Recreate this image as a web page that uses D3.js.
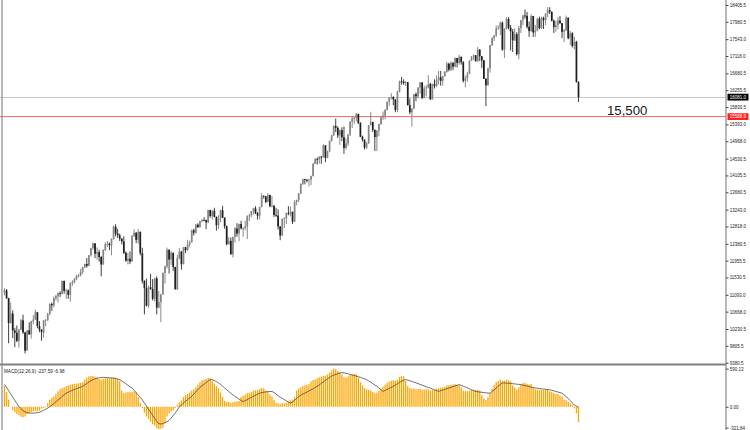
<!DOCTYPE html>
<html><head><meta charset="utf-8">
<script src="https://cdn.jsdelivr.net/npm/d3@7"></script>
<style>html,body{margin:0;padding:0;background:#fff;overflow:hidden}svg{display:block}</style>
</head><body>
<svg id="c" width="750" height="430"></svg>
<script>
// ---- Weekly price bars ----
const opens = [11150,11204,11009,10380,10620,10193,10137,9931,10211,10450,
10143,9686,10198,10097,10425,10466,10654,10303,10213,10150,
10448,10462,10607,10860,10829,11006,11062,11133,11118,11444,
11192,11204,11092,11382,11410,11492,11573,11578,11674,11787,
11871,11823,12092,12273,12391,12130,12170,12044,11858,12221,
12376,12380,12341,12505,12811,12638,12596,12512,12441,12151,
11952,12004,11934,12582,12657,12480,12681,12143,11444,11269,
10817,11284,11240,10992,11509,10771,10913,11103,11644,11809,
12231,11983,12153,11796,11231,12019,12184,11866,12294,12218,
12360,12422,12720,12660,12862,12801,12950,12983,12977,12922,
13233,13081,13212,13060,12850,13029,13228,13038,12821,12369,
12455,12119,12554,12767,12640,12880,12772,12777,12822,13075,
13096,13207,13275,13157,13090,13306,13593,13579,13437,13610,
13328,13343,13107,13093,12815,12588,13010,13026,13155,13135,
13190,12938,13435,13488,13650,13896,14009,13993,13982,14001,
14090,14397,14515,14512,14579,14565,14865,14547,14712,14974,
15118,15354,15303,15116,15248,15070,14799,14910,15135,15464,
15544,15559,15658,15425,15081,15010,14810,14922,15376,15452,
15258,15073,15237,15400,15570,15615,15762,15962,16065,16086,
16020,15755,16221,16479,16470,16437,16458,15879,15699,15794,
16154,16103,16322,16453,16065,16303,16323,16412,16027,16409,
16361,16513,16583,16491,16606,16717,16924,16776,16948,16851,
17068,16944,17100,16961,16493,16554,16663,17001,17098,17138,
16988,17280,17113,17009,16544,16380,16805,17391,17573,17635,
17810,17828,17958,17281,17805,18053,17833,17737,17512,17672,
17165,17825,18019,18140,18133,17857,17749,18128,17713,17763,
18057,17826,18080,18024,18191,18272,18232,18010,17849,17898,
18015,17947,17730,17760,18086,17568,17690,17373,17477,16460];

const highs = [11258,11240,11020,10900,10700,10260,10320,10230,10480,10594,
10160,10200,10400,10440,10580,10720,10660,10430,10230,10460,
10480,10640,10880,10900,11050,11100,11160,11180,11450,11451,
11250,11230,11410,11460,11520,11600,11620,11750,11800,11880,
12020,12100,12280,12410,12400,12290,12230,12070,12240,12420,
12450,12410,12520,12840,12876,12760,12640,12520,12570,12190,
12150,12190,12600,12750,12680,12750,12690,12280,11460,11500,
11330,11620,11490,11520,11560,11190,11120,11660,11830,12284,
12240,12200,12160,11800,12100,12270,12200,12300,12300,12480,
12460,12740,12760,12880,12900,12960,13000,13050,12990,13240,
13240,13230,13290,13070,13100,13240,13338,13050,12840,12550,
12540,12560,12800,12900,12890,12960,12800,12960,13100,13140,
13210,13290,13330,13180,13320,13653,13600,13580,13661,13620,
13590,13350,13290,13250,12830,13020,13050,13170,13330,13320,
13190,13480,13490,13660,13900,14020,14020,14020,14020,14100,
14420,14540,14560,14590,14600,14890,14870,14730,14990,15130,
15370,15540,15340,15260,15320,15340,15040,15150,15470,15580,
15580,15680,15660,15450,15110,15010,14950,15380,15710,15460,
15260,15250,15410,15600,15720,15770,15970,16080,16180,16100,
16030,16240,16500,16590,16530,16490,16460,16050,15800,16160,
16200,16330,16460,16460,16370,16380,16630,16440,16420,16530,
16630,16740,16740,16620,16740,16970,16950,16980,16960,17080,
17070,17150,17100,16990,16620,16720,17010,17120,17150,17140,
17350,17290,17120,17020,16560,16820,17400,17590,17650,17890,
17890,17990,17990,17820,18100,18100,17900,17800,17820,17720,
17880,18030,18160,18290,18230,17990,18170,18130,17900,18080,
18110,18110,18110,18200,18350,18350,18240,18040,18010,18100,
18130,17950,17800,18140,18090,17750,17720,17600,17500,16480];

const lows = [11080,10990,9870,10370,10000,9775,9900,9760,10200,10110,
9614,9680,10080,9990,10350,10460,10250,10150,9936,10010,
10300,10430,10580,10690,10780,10950,10900,11040,11100,11120,
10990,10990,10920,11320,11380,11460,11530,11560,11620,11760,
11780,11820,12060,12230,12020,11980,11930,11560,11850,12200,
12300,12220,12090,12480,12570,12530,12450,12370,12120,11930,
11860,11870,11930,12550,12400,12380,12090,11380,10600,10800,
10770,11220,10950,10930,10600,10750,10404,11100,11380,11760,
11630,11850,11700,11230,11220,11990,11730,11860,12150,12210,
12290,12410,12590,12640,12780,12790,12920,12950,12750,12900,
13040,13000,13050,12710,12750,12920,13030,12760,12340,12360,
12100,12035,12410,12560,12450,12740,12560,12720,12500,12950,
13050,13120,13130,12990,13000,13300,13520,13400,13430,13300,
13300,13060,13060,12740,12470,12580,12780,12880,13100,13070,
12880,12930,13350,13430,13640,13860,13880,13930,13830,13860,
14080,14390,14380,14400,14400,14550,14440,14540,14690,14960,
15100,15200,15050,14880,14970,14650,14760,14850,15100,15300,
15400,15470,15400,15070,14960,14760,14770,14900,15370,15200,
14720,14720,15100,15380,15500,15520,15740,15860,16020,15880,
15700,15700,16200,16400,16390,16360,15870,15650,15340,15780,
15980,16050,16170,16030,16050,16100,16300,16010,16020,16300,
16330,16400,16370,16370,16600,16700,16730,16740,16760,16830,
16830,16900,16900,16450,16330,16470,16660,16990,17020,16980,
16980,16990,16820,16540,15855,16370,16700,17370,17500,17600,
17780,17650,17250,17070,17790,17790,17260,17220,17500,17130,
17040,17700,17900,18060,17810,17600,17720,17600,17600,17740,
17790,17800,17800,17900,18100,18180,17990,17700,17730,17790,
17930,17570,17470,17750,17540,17400,17330,17290,16450,15960];

const closes = [11204,11009,10380,10620,10193,10137,9931,10211,10450,10143,
9686,10198,10097,10425,10466,10654,10303,10213,10150,10448,
10462,10607,10860,10829,11006,11062,11133,11118,11444,11192,
11204,11092,11382,11410,11492,11573,11578,11674,11787,11871,
11823,12092,12273,12391,12130,12170,12044,11858,12221,12376,
12380,12341,12505,12811,12638,12596,12512,12441,12151,11952,
12004,11934,12582,12657,12480,12681,12143,11444,11269,10817,
11284,11240,10992,11509,10771,10913,11103,11644,11809,12231,
11983,12153,11796,11231,12019,12184,11866,12294,12218,12360,
12422,12720,12660,12862,12801,12950,12983,12977,12922,13233,
13081,13212,13060,12850,13029,13228,13038,12821,12369,12455,
12119,12554,12767,12640,12880,12772,12777,12822,13075,13096,
13207,13275,13157,13090,13306,13593,13579,13437,13610,13328,
13343,13107,13093,12815,12588,13010,13026,13155,13135,13190,
12938,13435,13488,13650,13896,14009,13993,13982,14001,14090,
14397,14515,14512,14579,14565,14865,14547,14712,14974,15118,
15354,15303,15116,15248,15070,14799,14910,15135,15464,15544,
15559,15658,15425,15081,15010,14810,14922,15376,15452,15258,
15073,15237,15400,15570,15615,15762,15962,16065,16086,16020,
15755,16221,16479,16470,16437,16458,15879,15699,15794,16154,
16103,16322,16453,16065,16303,16323,16412,16027,16409,16361,
16513,16583,16491,16606,16717,16924,16776,16948,16851,17068,
16944,17100,16961,16493,16554,16663,17001,17098,17138,16988,
17280,17113,17009,16544,16380,16805,17391,17573,17635,17810,
17828,17958,17281,17805,18053,17833,17737,17512,17672,17165,
17825,18019,18140,18133,17857,17749,18128,17713,17763,18057,
17826,18080,18024,18191,18272,18232,18010,17849,17898,18015,
17947,17730,17760,18086,17568,17690,17373,17477,16460,16081];

// ---- MACD(12,26,9): main histogram and signal line ----
const macdMain = [320,230,110,0,-50,-80,-110,-130,-155,-160,
-150,-110,-100,-80,-70,-60,-70,-60,-30,-20,
10,60,110,140,160,200,240,270,290,300,
320,330,340,350,355,360,365,370,380,420,
450,470,475,475,465,450,430,420,430,440,
445,440,445,455,450,430,400,250,210,220,
230,225,235,240,225,150,60,-20,-90,-150,
-190,-230,-270,-290,-330,-345,-340,-320,-250,-150,
-100,-70,-55,-20,30,70,100,150,180,200,
220,250,270,300,340,380,410,420,430,445,
440,400,360,320,290,220,150,90,70,75,
60,70,80,80,90,150,170,190,210,215,
230,250,255,260,275,290,285,250,230,190,
160,110,60,50,45,55,50,60,80,100,
110,150,250,280,300,320,330,340,350,390,
410,420,440,455,465,475,480,500,530,560,
590,580,555,530,500,460,450,470,490,500,
505,500,450,380,330,290,270,260,250,230,
210,220,250,280,310,340,370,390,400,410,
400,420,460,475,470,400,320,290,280,280,
270,275,280,265,265,270,270,255,260,265,
280,290,295,300,310,330,330,340,345,350,
340,330,300,250,240,240,250,260,265,260,
265,250,180,130,105,150,210,280,340,380,
400,420,400,405,420,410,395,330,300,265,
300,340,365,370,355,345,350,300,270,265,
260,265,260,265,270,240,230,210,200,195,
175,160,110,100,75,55,30,-25,-100,-237.59];

const macdSignal = [343,300,250,200,150,100,50,5,-30,-60,
-80,-92,-96,-98,-98,-96,-92,-85,-70,-55,
-38,-20,0,25,50,78,105,130,158,185,
210,225,240,255,268,280,292,304,316,338,
360,382,402,420,432,442,448,452,454,454,
452,450,446,442,436,428,420,400,378,355,
332,310,290,255,218,180,143,105,58,10,
-38,-85,-130,-180,-225,-263,-265,-260,-248,-230,
-210,-175,-135,-95,-50,0,30,58,85,110,
135,160,195,230,265,300,325,350,375,400,
420,418,405,390,370,345,318,290,262,236,
210,185,162,140,118,98,80,95,112,128,
145,162,178,195,210,218,224,230,234,237,
237,220,195,170,148,130,112,92,72,55,
75,100,128,160,178,195,212,228,245,262,
280,298,316,338,362,385,408,430,452,474,
488,500,512,522,527,525,518,510,500,492,
484,474,465,455,443,432,420,400,380,358,
337,316,290,262,237,252,268,284,300,316,
336,356,376,395,410,420,412,402,392,380,
370,358,346,334,322,310,300,290,276,262,
250,237,248,258,268,280,290,300,312,322,
332,342,330,318,305,292,278,264,250,237,
232,228,224,220,215,212,210,235,262,290,
318,345,370,368,366,363,360,357,353,350,
346,342,335,327,320,312,305,297,290,286,
282,278,274,270,266,263,255,246,237,228,
219,210,185,158,130,95,60,26,10,-6.98];

// ---- axis tick labels ----
const priceTicks = [18405.5,17980.5,17543.0,17118.0,16680.5,16255.5,15830.5,15393.0,14968.0,14530.5,14105.5,13680.5,13243.0,12818.0,12380.5,11955.5,11530.5,11093.0,10668.0,10230.5,9805.5,9380.5];
const macdTicks = [590.13, 0.00, -321.84];
const currentPrice = 16081.0;
const levelPrice = 15588.9;
const levelText = "15,500";
const macdTitle = "MACD(12,26,9) -237.59 -6.98";

// ---- layout ----
const W = 750, H = 430;
const axisX = 726;
const svg = d3.select("#c");
const FONT = "'Liberation Sans', Arial, sans-serif";

const x = d3.scaleLinear().domain([0, closes.length - 1]).range([4.5, 578.5]);
const y = d3.scaleLinear().domain([9380.5, 18405.5]).range([362.7, 5]);
const ym = d3.scaleLinear().domain([-321.84, 590.13]).range([427.6, 368.6]);

svg.append("rect").attr("width", W).attr("height", H).attr("fill", "#fff");

// horizontal lines
svg.append("line").attr("x1", 0).attr("x2", axisX).attr("y1", Math.round(y(currentPrice)) + 0.5).attr("y2", Math.round(y(currentPrice)) + 0.5)
  .attr("stroke", "#c8c8c8").attr("stroke-width", 1);
svg.append("line").attr("x1", 0).attr("x2", axisX).attr("y1", y(levelPrice)).attr("y2", y(levelPrice))
  .attr("stroke", "#e8666a").attr("stroke-width", 1);

// candles
const idx = d3.range(closes.length);
const g = svg.append("g");
g.selectAll("line.w").data(idx).join("line").attr("class", "w")
  .attr("x1", i => x(i)).attr("x2", i => x(i))
  .attr("y1", i => y(highs[i])).attr("y2", i => y(lows[i]))
  .attr("stroke", i => closes[i] >= opens[i] ? "#7a7a7a" : "#2a2a2a").attr("stroke-width", 0.9);
g.selectAll("rect.b").data(idx).join("rect").attr("class", "b")
  .attr("x", i => x(i) - 0.85).attr("width", 1.7)
  .attr("y", i => y(Math.max(opens[i], closes[i])))
  .attr("height", i => Math.max(0.8, Math.abs(y(opens[i]) - y(closes[i]))))
  .attr("fill", i => closes[i] >= opens[i] ? "#858585" : "#1e1e1e");

// annotation
svg.append("text").attr("x", 607).attr("y", 114.5).text(levelText)
  .attr("font-family", FONT).attr("font-size", 13.2).attr("fill", "#1a1a1a");

// panel separator and borders
svg.append("rect").attr("x", 0).attr("y", 363.5).attr("width", axisX).attr("height", 2).attr("fill", "#808080");
svg.append("line").attr("x1", 2).attr("x2", 2).attr("y1", 0).attr("y2", H).attr("stroke", "#888").attr("stroke-width", 1.2);
svg.append("line").attr("x1", axisX).attr("x2", axisX).attr("y1", 0).attr("y2", H).attr("stroke", "#888").attr("stroke-width", 1.2);

// price axis
const ax = svg.append("g").attr("transform", `translate(${axisX},0)`)
  .call(d3.axisRight(y).tickValues(priceTicks).tickSize(2.5).tickPadding(1.2).tickFormat(d => d.toFixed(1)));
ax.select(".domain").remove();
ax.selectAll("line").attr("stroke", "#444");
ax.selectAll("text").attr("font-family", FONT).attr("font-size", 4.5).attr("fill", "#222");

// price markers
function marker(v, bg) {
  const yy = y(v);
  svg.append("rect").attr("x", axisX + 1.5).attr("y", yy - 3.4).attr("width", W - axisX - 3).attr("height", 6.8).attr("fill", bg);
  svg.append("text").attr("x", axisX + 3.7).attr("y", yy).attr("dy", "0.35em").text(v.toFixed(1))
    .attr("font-family", FONT).attr("font-size", 4.5).attr("fill", "#fff");
}
marker(currentPrice, "#000");
marker(levelPrice, "#ff2020");

// MACD panel
const m = svg.append("g");
m.selectAll("rect").data(idx).join("rect")
  .attr("x", i => x(i) - 0.65).attr("width", 1.3)
  .attr("y", i => Math.min(ym(0), ym(macdMain[i])))
  .attr("height", i => Math.abs(ym(macdMain[i]) - ym(0)))
  .attr("fill", "#ffa500");
m.append("path").datum(idx)
  .attr("d", d3.line().x(i => x(i)).y(i => ym(macdSignal[i])).curve(d3.curveLinear))
  .attr("fill", "none").attr("stroke", "#4a4a4a").attr("stroke-width", 0.8);

svg.append("text").attr("x", 4).attr("y", 371.5).attr("dy", "0.35em").text(macdTitle)
  .attr("font-family", FONT).attr("font-size", 4.6).attr("fill", "#222");

const axm = svg.append("g").attr("transform", `translate(${axisX},0)`)
  .call(d3.axisRight(ym).tickValues(macdTicks).tickSize(2.5).tickPadding(1.2).tickFormat(d => d.toFixed(2)));
axm.select(".domain").remove();
axm.selectAll("line").attr("stroke", "#444");
axm.selectAll("text").attr("font-family", FONT).attr("font-size", 4.5).attr("fill", "#222");
</script>
</body></html>
